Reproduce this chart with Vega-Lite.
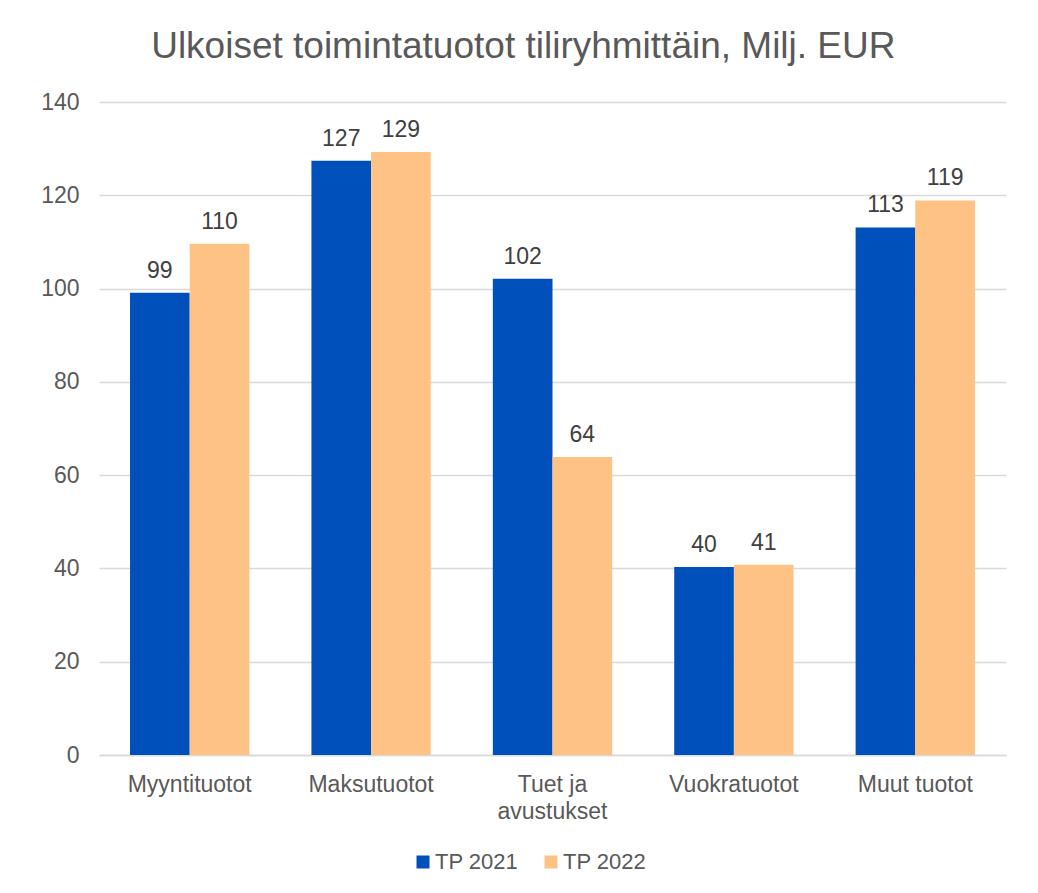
{
  "$schema": "https://vega.github.io/schema/vega-lite/v6.json",
  "width": 907,
  "height": 653,
  "padding": {"left": 40, "top": 28, "right": 31, "bottom": 5},
  "background": "white",
  "title": {
    "text": "Ulkoiset toimintatuotot tiliryhmittäin, Milj. EUR",
    "fontSize": 37,
    "font": "Liberation Sans",
    "fontWeight": "normal",
    "color": "#595959",
    "offset": 25,
    "frame": "bounds"
  },
  "data": {
    "values": [
      {"category": "Myyntituotot", "series": "TP 2021", "value": 99.1},
      {"category": "Myyntituotot", "series": "TP 2022", "value": 109.6},
      {"category": "Maksutuotot", "series": "TP 2021", "value": 127.4},
      {"category": "Maksutuotot", "series": "TP 2022", "value": 129.3},
      {"category": "Tuet ja avustukset", "series": "TP 2021", "value": 102.1},
      {"category": "Tuet ja avustukset", "series": "TP 2022", "value": 63.9},
      {"category": "Vuokratuotot", "series": "TP 2021", "value": 40.3},
      {"category": "Vuokratuotot", "series": "TP 2022", "value": 40.8},
      {"category": "Muut tuotot", "series": "TP 2021", "value": 113.1},
      {"category": "Muut tuotot", "series": "TP 2022", "value": 118.9}
    ]
  },
  "encoding": {
    "x": {
      "field": "category",
      "type": "nominal",
      "sort": null,
      "scale": {"paddingInner": 0.342, "paddingOuter": 0.171},
      "axis": {
        "title": null,
        "labelAngle": 0,
        "ticks": false,
        "domainColor": "#D9D9D9",
        "domainWidth": 1.5,
        "labelFont": "Liberation Sans",
        "labelFontSize": 23,
        "labelColor": "#595959",
        "labelPadding": 18,
        "labelLineHeight": 27,
        "labelExpr": "datum.value == 'Tuet ja avustukset' ? ['Tuet ja', 'avustukset'] : datum.value"
      }
    },
    "xOffset": {"field": "series", "type": "nominal", "scale": {"paddingInner": 0, "paddingOuter": 0}},
    "y": {
      "field": "value",
      "type": "quantitative",
      "scale": {"domain": [0, 140]},
      "axis": {
        "title": null,
        "values": [0, 20, 40, 60, 80, 100, 120, 140],
        "ticks": false,
        "domain": false,
        "gridColor": "#D9D9D9",
        "gridWidth": 1.5,
        "labelPadding": 20,
        "labelFont": "Liberation Sans",
        "labelFontSize": 23,
        "labelColor": "#595959"
      }
    }
  },
  "layer": [
    {
      "mark": {"type": "bar"},
      "encoding": {
        "color": {
          "field": "series",
          "type": "nominal",
          "scale": {"domain": ["TP 2021", "TP 2022"], "range": ["#0050BC", "#FFC285"]},
          "legend": {
            "title": null,
            "orient": "none",
            "legendX": 313,
            "legendY": 749,
            "direction": "horizontal",
            "symbolType": "square",
            "symbolSize": 169,
            "symbolStrokeWidth": 0,
            "labelFont": "Liberation Sans",
            "labelFontSize": 22,
            "labelColor": "#595959",
            "labelOffset": 1,
            "columnPadding": 21
          }
        }
      }
    },
    {
      "mark": {"type": "text", "baseline": "bottom", "dy": -10, "font": "Liberation Sans", "fontSize": 23, "color": "#404040"},
      "encoding": {
        "text": {"field": "value", "type": "quantitative", "format": ".0f"}
      }
    }
  ],
  "config": {
    "view": {"stroke": null}
  }
}
